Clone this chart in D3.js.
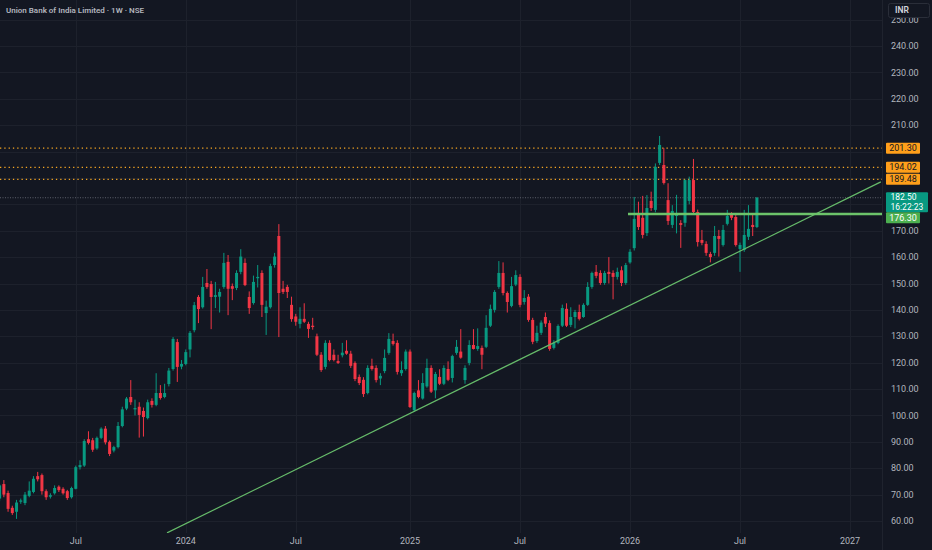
<!DOCTYPE html>
<html>
<head>
<meta charset="utf-8">
<script src="https://cdn.jsdelivr.net/npm/d3@7"></script>
<style>
html, body { margin: 0; padding: 0; background: #131722; }
svg { display: block; }
text { font-family: Roboto, "Noto Sans", sans-serif; }
</style>
</head>
<body>
<svg id="chart" width="932" height="550"></svg>
<script>
// Weekly bars, the last one is the week of 3 Aug 2026
const lastBar = "2026-08-03";

const opens = [68.5, 74, 70.6, 65, 63.5, 67.3, 66.8, 69.5, 71, 77,
    77.4, 71.3, 69.2, 70.5, 73, 72.2, 71.3, 69, 72.2, 80.4,
    81, 91, 90.6, 87.5, 91.5, 95, 90, 86.7, 88, 96,
    102.6, 107, 102.3, 103.3, 101.7, 99, 105.5, 104, 108.5, 107,
    111.9, 117.6, 127.8, 118.5, 119.5, 125, 132.3, 144.9, 141, 150.2,
    149.8, 144.9, 145, 148.7, 158.2, 149, 148.3, 154.4, 157.8, 144.9,
    142.6, 152, 154, 138.8, 141, 157, 168, 148, 148.7, 141.9,
    137.5, 134.7, 136.6, 134.7, 134, 130, 123, 118.4, 127.5, 123,
    120.6, 122.8, 124.5, 123.4, 119.9, 114.6, 113.5, 108.5, 118.8, 118,
    114, 116.8, 123.7, 128.2, 127.5, 116, 117.6, 124.2, 102, 109.5,
    106.4, 111, 118, 109.5, 114.6, 112, 117.6, 114.2, 123.7, 124.2,
    113.4, 119.9, 126.7, 125.2, 125.6, 126, 134, 140, 148.7, 154,
    146.4, 141.5, 149.6, 152.5, 143, 145, 136.2, 128.2, 131.3, 137.3,
    135, 125.6, 127.5, 134, 140.4, 134.3, 137.3, 139.2, 137.3, 141.9,
    148.7, 154.4, 154, 150.2, 154.4, 154, 152.5, 155, 150.2, 158,
    163.4, 176, 174.9, 169.1, 181.3, 177.9, 195.7, 194.9, 181.6, 172.2,
    175.6, 172.9, 173, 181.3, 189.2, 177.1, 166.5, 165, 161.2, 161.6,
    168, 164.6, 172.6, 176, 175.2, 163.1, 162.7, 167.7, 172.2, 171.4];

const highs = [74, 75.5, 71.5, 65.8, 68, 68.5, 71, 75, 77, 78.6,
    78, 72, 70.5, 73.5, 73.5, 72.8, 71.8, 73, 81, 83,
    91, 94, 91.5, 92, 95.5, 96, 90.5, 88.5, 97.5, 103.3,
    107, 113.4, 106, 105, 103, 106, 106.5, 116, 111.5, 112,
    118, 129.7, 129, 121, 125, 132, 143, 145.6, 152.5, 155.5,
    151, 150.6, 148, 161.6, 160.8, 150, 155, 163, 159.5, 147,
    153, 157, 155, 143.5, 157.5, 161.6, 172.5, 151, 149.5, 145,
    138.5, 141, 142.5, 135.5, 137, 131, 124, 128.5, 128.5, 125,
    123, 127.5, 128.5, 124.5, 120.5, 115.5, 114.5, 119, 121.5, 119,
    116, 125, 131.2, 131, 128.5, 120.5, 125, 125, 109, 113.4,
    116, 121.5, 119, 116.5, 117.5, 119, 120.5, 123, 128.6, 132.7,
    119, 128.5, 132.7, 133, 126.5, 138, 142, 147.5, 158.5, 158,
    147, 152.5, 155, 153.5, 147.5, 146, 137, 134, 136, 139,
    136, 128.5, 134.5, 142, 142.5, 141, 140, 142, 142.5, 150.5,
    154.5, 157, 155, 154.8, 160, 155, 156, 156.5, 157.8, 163,
    182.8, 181, 183.2, 183.5, 184.8, 195.5, 205.9, 201.3, 188, 179.7,
    183.6, 174, 189.5, 190.5, 197.2, 178, 170.3, 166, 162, 171.8,
    170.3, 172.2, 177.9, 177, 176, 165.5, 177.9, 179.7, 176.7, 182.8];

const lows = [67.5, 69, 63.5, 62.3, 60.8, 66.5, 66, 69, 70.5, 75,
    70, 68, 68.5, 70, 71, 70, 68, 68.5, 72, 79.5,
    80.5, 89, 86.2, 87, 91, 89, 84.6, 86, 87.5, 95.5,
    102, 104, 100, 91.6, 92, 98.5, 103, 103.5, 106, 106.5,
    111, 117, 112.7, 117.5, 119, 122, 131.5, 135, 140.5, 148,
    132.7, 140.7, 139, 148, 138, 143.7, 147.5, 153.5, 149, 138.5,
    142, 148.5, 137.3, 130.5, 140.5, 156, 129.7, 146, 144.5, 135.5,
    134, 133, 135, 129.4, 132.5, 122.5, 116.5, 117.5, 120.5, 120.5,
    119.5, 122, 123, 118, 113, 111.5, 107, 108, 117, 112.5,
    111.5, 116, 123, 126.5, 115.5, 115, 117, 102.8, 101.3, 106.5,
    106, 110.5, 108.5, 106.5, 111.5, 111.5, 113, 112.5, 123, 121.5,
    112, 119, 125, 124.5, 117.5, 125.5, 133.5, 139, 148, 145.5,
    139, 141, 149, 141, 142, 135.5, 127, 127.5, 130.5, 133.5,
    124.5, 125, 127, 133.5, 133.5, 133.5, 133, 136, 137, 141.5,
    148, 152, 149.5, 149.5, 150, 144, 151.5, 149, 149.5, 157.5,
    162.5, 170.3, 167.1, 168, 177.5, 177, 194.9, 187.5, 172.2, 171,
    169, 163.5, 171.5, 180, 176.5, 164, 164.5, 160.5, 158, 160.5,
    160.2, 164, 172, 174, 164, 154.4, 162, 166.5, 168, 171];

const closes = [73.5, 70, 64.6, 63, 67, 67.8, 70, 71.5, 76, 75.8,
    71.3, 69, 69.8, 72.5, 71.7, 70.5, 68.7, 72.5, 80.4, 81.2,
    90.3, 89.6, 87, 91.5, 95, 89.8, 85.4, 88, 96, 102.3,
    106.4, 105, 102.8, 100.2, 99.4, 105, 104, 108.5, 106.6, 108.5,
    117, 129, 118.4, 119.5, 124, 131.3, 141.8, 140.3, 148.7, 148.7,
    144.9, 145.6, 146.8, 157.8, 148, 148, 154, 160.2, 149.4, 140.7,
    150.6, 152.5, 141.9, 141.2, 156.6, 160.2, 146.4, 146.8, 146.8, 136.5,
    135.5, 136.6, 135.5, 132.8, 133.5, 123, 117.2, 127.5, 121, 121,
    119.9, 123.8, 123.4, 118.8, 113.8, 112.3, 108.1, 118, 117.6, 113.4,
    115, 121.8, 129, 127.1, 116.5, 117.2, 124.2, 103.2, 108.5, 107,
    112.3, 118, 109, 115.7, 112, 118, 113.5, 122.5, 126, 121.9,
    118, 126.7, 125.2, 126.3, 123, 133.2, 140.4, 146.8, 154, 146.4,
    143, 149, 153.2, 141.9, 144.5, 136.2, 127.9, 131.3, 135.2, 134.8,
    125.2, 127.5, 133.9, 140.7, 134, 137.3, 139.2, 136.6, 141.9, 148.7,
    154, 152.9, 150.2, 154, 153.6, 152.5, 154.4, 150.2, 157, 162,
    174.5, 171.4, 168.4, 178.6, 178.6, 194.2, 202.5, 188.1, 173.7, 177.5,
    176.4, 172.2, 189.2, 189.2, 177.1, 165.7, 165.4, 161.6, 160, 168,
    166.9, 170.3, 175.6, 174.9, 164.6, 164.6, 168.4, 170.7, 171.4, 182.5];

const priceTicks = [60, 70, 80, 90, 100, 110, 120, 130, 140, 150,
    160, 170, 180, 190, 200, 210, 220, 230, 240, 250];
const timeTicks = ["2023-07-03", "2024-01-01", "2024-07-01", "2025-01-06",
    "2025-07-07", "2026-01-05", "2026-07-06", "2027-01-04"];

// horizontal alert levels (dotted orange)
const alertLevels = [201.30, 194.02, 189.48];
const lastPrice = 182.50;
const countdown = "16:22:23";
// support line drawn from the first bar of 2026
const supportStart = "2026-01-05";
const supportPrice = 176.30;
// rising trend line anchors
const trendDates = ["2023-12-01", "2027-02-24"];
const trendPrices = [55.5, 188.5];

const W = 932, H = 550;
const paneRight = 882, paneBottom = 533;
const up = "#089981", down = "#f23645";

const svg = d3.select("#chart");
svg.append("rect").attr("width", W).attr("height", H).attr("fill", "#131722");

const x = d3.scaleUtc()
    .domain([new Date("2026-01-05"), new Date("2027-01-04")])
    .range([630, 850]);
const y = d3.scaleLinear().domain([60, 240]).range([521, 46]);

const n = closes.length;
const last = new Date(lastBar);
const bars = closes.map((c, i) => ({
    date: d3.utcWeek.offset(last, i - (n - 1)),
    o: opens[i], h: highs[i], l: lows[i], c: c
}));

svg.append("clipPath").attr("id", "pane")
    .append("rect").attr("x", 0).attr("y", 0).attr("width", paneRight).attr("height", paneBottom);

// grid
const grid = svg.append("g");
grid.selectAll(".gy").data(priceTicks).join("line")
    .attr("x1", 0).attr("x2", paneRight)
    .attr("y1", d => Math.round(y(d)) + 0.5).attr("y2", d => Math.round(y(d)) + 0.5)
    .attr("stroke", "#1d212c").attr("stroke-width", 1);
grid.selectAll(".gx").data(timeTicks).join("line")
    .attr("x1", d => Math.round(x(new Date(d))) + 0.5).attr("x2", d => Math.round(x(new Date(d))) + 0.5)
    .attr("y1", 0).attr("y2", paneBottom)
    .attr("stroke", "#1d212c").attr("stroke-width", 1);

const pane = svg.append("g").attr("clip-path", "url(#pane)");

// dotted alert lines
pane.selectAll(".alert").data(alertLevels).join("line")
    .attr("x1", 0).attr("x2", paneRight)
    .attr("y1", d => y(d)).attr("y2", d => y(d))
    .attr("stroke", "#f5a623").attr("stroke-width", 1.3)
    .attr("stroke-dasharray", "1.3,3");

// last price line
pane.append("line")
    .attr("x1", 0).attr("x2", paneRight)
    .attr("y1", y(lastPrice)).attr("y2", y(lastPrice))
    .attr("stroke", "#5d606b").attr("stroke-width", 1)
    .attr("stroke-dasharray", "1,1.5");

// candles
const candles = pane.append("g").selectAll("g").data(bars).join("g");
candles.append("line")
    .attr("x1", d => x(d.date)).attr("x2", d => x(d.date))
    .attr("y1", d => y(d.h)).attr("y2", d => y(d.l))
    .attr("stroke", d => d.c >= d.o ? up : down).attr("stroke-width", 1);
candles.append("rect")
    .attr("x", d => x(d.date) - 1.5).attr("width", 3)
    .attr("y", d => y(Math.max(d.o, d.c)))
    .attr("height", d => Math.max(1, Math.abs(y(d.o) - y(d.c))))
    .attr("fill", d => d.c >= d.o ? up : down);

// trend line
pane.append("line")
    .attr("x1", x(new Date(trendDates[0]))).attr("y1", y(trendPrices[0]))
    .attr("x2", x(new Date(trendDates[1]))).attr("y2", y(trendPrices[1]))
    .attr("stroke", "#66bb6a").attr("stroke-width", 1.2);

// support line
pane.append("line")
    .attr("x1", x(new Date(supportStart)) - 2).attr("x2", paneRight)
    .attr("y1", y(supportPrice)).attr("y2", y(supportPrice))
    .attr("stroke", "#6cc36a").attr("stroke-width", 2.5);

// tag layout on the price axis (last price tag pushes the support tag down)
const lpTop = y(lastPrice) - 5.5;
const lpHeight = 20;
const tagCenters = alertLevels.map(v => y(v))
    .concat([lpTop + lpHeight / 2, lpTop + lpHeight + 5.5]);

// price axis, labels hidden where a tag sits on top of them
svg.append("line").attr("x1", paneRight + 0.5).attr("x2", paneRight + 0.5)
    .attr("y1", 0).attr("y2", H).attr("stroke", "#1f232e");
const visibleTicks = priceTicks.filter(p => tagCenters.every(c => Math.abs(y(p) - c) > 11));
svg.selectAll(".pt").data(visibleTicks).join("text")
    .attr("x", 891).attr("y", d => y(d)).attr("dy", "0.35em")
    .attr("font-size", 9).attr("fill", "#b2b5be")
    .text(d => d3.format(".2f")(d));

// time axis
svg.selectAll(".tt").data(timeTicks).join("text")
    .attr("x", d => x(new Date(d))).attr("y", 544)
    .attr("text-anchor", "middle").attr("font-size", 9).attr("fill", "#b2b5be")
    .text(d => {
        const dt = new Date(d);
        return dt.getUTCMonth() === 0 ? d3.utcFormat("%Y")(dt) : d3.utcFormat("%b")(dt);
    });

// price tags
const tags = svg.append("g");
alertLevels.forEach(v => {
    tags.append("rect").attr("x", 886).attr("y", y(v) - 5.5).attr("width", 34).attr("height", 11)
        .attr("rx", 1).attr("fill", "#ff9f1a");
    tags.append("text").attr("x", 903).attr("y", y(v)).attr("dy", "0.35em")
        .attr("text-anchor", "middle").attr("font-size", 9).attr("fill", "#131722")
        .text(d3.format(".2f")(v));
});
tags.append("rect").attr("x", 886).attr("y", lpTop).attr("width", 42).attr("height", lpHeight)
    .attr("rx", 1).attr("fill", up);
tags.append("text").attr("x", 890.5).attr("y", lpTop + 5.2).attr("dy", "0.35em")
    .attr("font-size", 8.5).attr("fill", "#ffffff").text(d3.format(".2f")(lastPrice));
tags.append("text").attr("x", 890.5).attr("y", lpTop + 14.6).attr("dy", "0.35em")
    .attr("font-size", 8.5).attr("fill", "#ffffff").text(countdown);
tags.append("rect").attr("x", 886).attr("y", lpTop + lpHeight).attr("width", 34).attr("height", 11)
    .attr("rx", 1).attr("fill", "#4caf50");
tags.append("text").attr("x", 903).attr("y", lpTop + lpHeight + 5.5).attr("dy", "0.35em")
    .attr("text-anchor", "middle").attr("font-size", 9).attr("fill", "#ffffff")
    .text(d3.format(".2f")(supportPrice));

// currency box
svg.append("rect").attr("x", 888.5).attr("y", 3.5).attr("width", 41).attr("height", 14)
    .attr("rx", 2).attr("fill", "#131722").attr("stroke", "#2a2e39");
svg.append("text").attr("x", 895).attr("y", 10.5).attr("dy", "0.35em")
    .attr("font-size", 8.5).attr("font-weight", 600).attr("fill", "#d1d4dc").text("INR");

// title
svg.append("text").attr("x", 6).attr("y", 10).attr("dy", "0.35em")
    .attr("font-size", 8).attr("font-weight", 600).attr("fill", "#b2b5be")
    .text("Union Bank of India Limited · 1W · NSE");
</script>
</body>
</html>
